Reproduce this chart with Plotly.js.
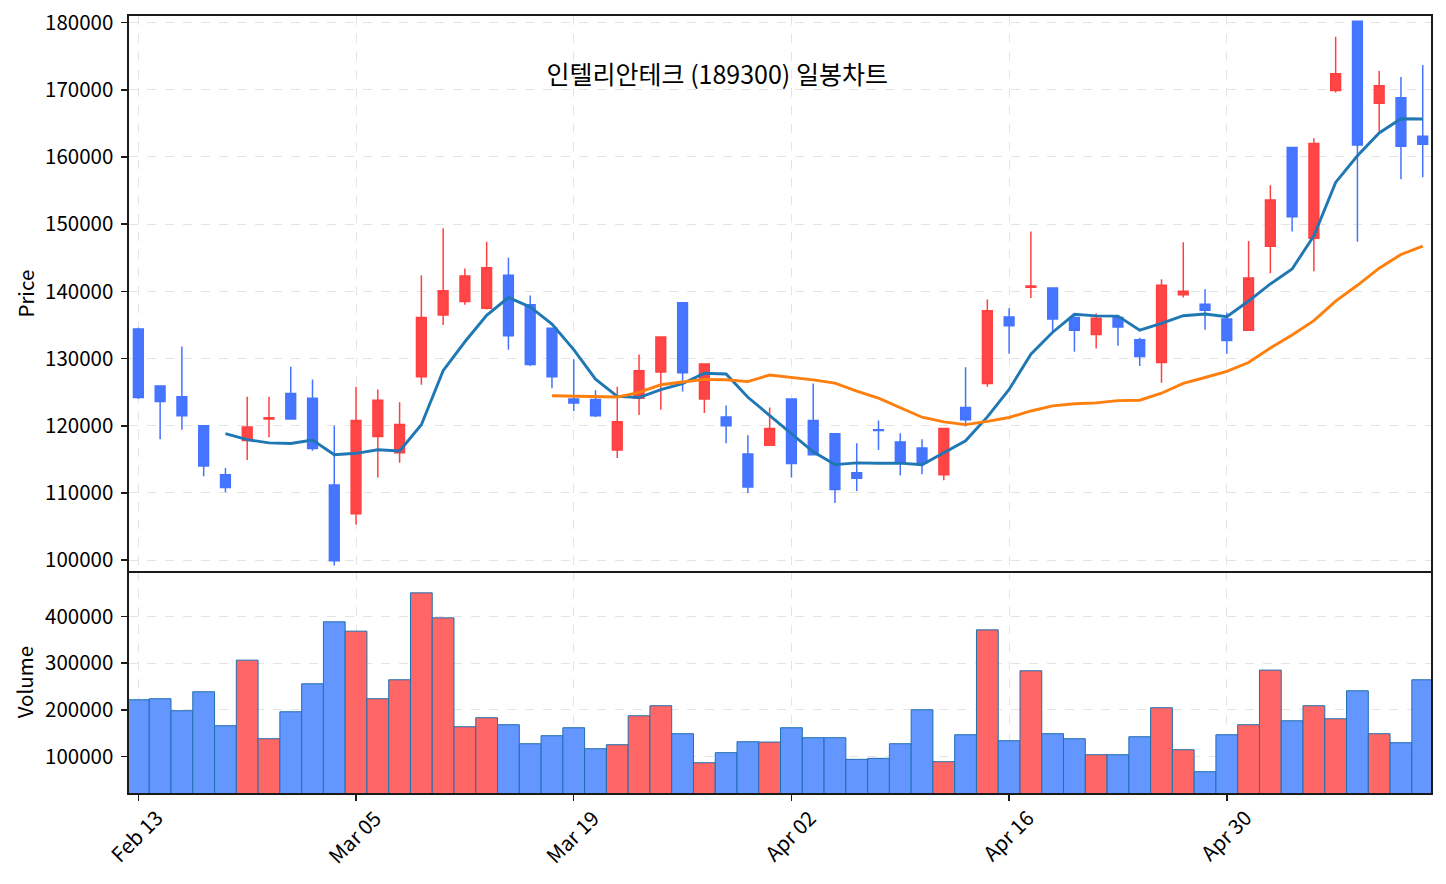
<!DOCTYPE html>
<html>
<head>
<meta charset="utf-8">
<script src="https://cdn.plot.ly/plotly-3.0.1.min.js"></script>
<style>
html, body { margin: 0; padding: 0; background: #ffffff; }
#chart { width: 1446px; height: 884px; }
</style>
</head>
<body>
<div id="chart"></div>
<script>
// ---- data ----
const chartTitle = '인텔리안테크 (189300) 일봉차트';
const tickLabels = ['Feb 13', 'Mar 05', 'Mar 19', 'Apr 02', 'Apr 16', 'Apr 30'];

const opens = [134400, 125900, 124300, 120000, 112700, 117800, 121000, 124800, 124100, 111200,
               106900, 118400, 116000, 127300, 136500, 138500, 137500, 142400, 138000, 134500,
               124000, 123900, 116400, 124100, 128000, 138300, 124000, 121300, 115800, 117100,
               124000, 120800, 118800, 113000, 119400, 117600, 116700, 112700, 122700, 126300,
               136200, 140600, 140500, 136100, 133600, 136100, 132800, 129400, 139500, 138100,
               135900, 134200, 146700, 161400, 147900, 169900, 180200, 168000, 168800, 163100];
const highs = [134600, 126000, 131800, 120000, 113700, 124300, 124300, 128800, 126900, 120000,
               125800, 125400, 123500, 142400, 149400, 143400, 147400, 145000, 139400, 134500,
               129900, 125300, 125800, 130600, 133200, 138300, 129200, 123000, 118600, 122700,
               124000, 126300, 118800, 117400, 120800, 118900, 118000, 119600, 128700, 138800,
               137500, 148900, 140500, 136300, 136700, 136500, 133100, 141800, 147300, 140300,
               136800, 147500, 155800, 161400, 162800, 177900, 180200, 172800, 171900, 173700];
const lows = [124000, 118000, 119400, 112500, 110100, 114900, 118300, 120900, 116300, 99200,
              105300, 112300, 114500, 126100, 135000, 138000, 137300, 131300, 128900, 125600,
              122200, 121300, 115200, 121600, 122400, 125100, 121900, 117400, 110000, 117100,
              112300, 115700, 108500, 110300, 116400, 112600, 112800, 111900, 119900, 125800,
              130700, 139000, 134000, 131000, 131500, 131900, 128900, 126400, 139100, 134300,
              130700, 134200, 142700, 148900, 143000, 169600, 147400, 163800, 156700, 157000];
const closes = [124200, 123600, 121500, 114000, 110800, 119800, 121200, 121000, 116600, 99900,
                120800, 123800, 120200, 136100, 140100, 142300, 143500, 133400, 129100, 127300,
                123400, 121500, 120600, 128200, 133200, 127900, 129200, 120000, 110900, 119600,
                114400, 115700, 110500, 112200, 119300, 114500, 114500, 119600, 120900, 137100,
                134900, 140800, 135900, 134200, 136000, 134700, 130300, 140900, 140000, 137200,
                132700, 142000, 153600, 151100, 162000, 172400, 161800, 170600, 161600, 161900];
const volumes = [221400, 223600, 197900, 238600, 165700, 306400, 137900, 195700, 255700, 388600,
                 368600, 223600, 264300, 450700, 397100, 163600, 182900, 167900, 127100, 144300,
                 161400, 116400, 125000, 187100, 208600, 148600, 86400, 107900, 131400, 130700,
                 161400, 140000, 140000, 93600, 95700, 127100, 200000, 88600, 146400, 371400,
                 133600, 283600, 148600, 137900, 103600, 103600, 142100, 204300, 114300, 67100,
                 146400, 167900, 285000, 176400, 208600, 180700, 240700, 148600, 129300, 264300];

// ---- derived ----
const idx = closes.map((_, i) => i);
function movingAverage(values, n) {
  return values.map((v, i) => {
    if (i < n - 1) return null;
    let s = 0;
    for (let k = i - n + 1; k <= i; k++) s += values[k];
    return s / n;
  });
}
const ma5 = movingAverage(closes, 5);
const ma20 = movingAverage(closes, 20);

const upLine = '#FF4040', upFill = '#FF4545';
const downLine = '#4474FF', downFill = '#4676FF';
const volUp = '#FF6666', volDown = '#6496FF';
const volColors = idx.map(i => closes[i] >= opens[i] ? volUp : volDown);

const tickVals = tickLabels.map((_, k) => k * 10);

const fontFam = '"Noto Sans CJK KR", "Noto Sans", sans-serif';
const fs = 20.5;
const tickFont = { family: fontFam, size: fs, color: '#000000' };
const gridColor = '#e4e4e4';
const lineColor = '#1a1a1a';

const traces = [
  {
    type: 'candlestick',
    x: idx, open: opens, high: highs, low: lows, close: closes,
    xaxis: 'x2', yaxis: 'y',
    increasing: { line: { color: upLine, width: 1.5 }, fillcolor: upFill },
    decreasing: { line: { color: downLine, width: 1.5 }, fillcolor: downFill },
    whiskerwidth: 0,
    showlegend: false, hoverinfo: 'skip'
  },
  {
    type: 'scatter', mode: 'lines', x: idx, y: ma5,
    xaxis: 'x2', yaxis: 'y',
    line: { color: '#1f77b4', width: 2.9 },
    showlegend: false, hoverinfo: 'skip'
  },
  {
    type: 'scatter', mode: 'lines', x: idx, y: ma20,
    xaxis: 'x2', yaxis: 'y',
    line: { color: '#ff7f0e', width: 2.9 },
    showlegend: false, hoverinfo: 'skip'
  },
  {
    type: 'bar', x: idx, y: volumes,
    xaxis: 'x', yaxis: 'y2',
    width: 1,
    marker: { color: volColors, line: { color: '#1f6fb0', width: 1 } },
    showlegend: false, hoverinfo: 'skip'
  }
];

const split = 0.2854;
const xRange = [-0.43, 59.38];

// x tick labels: rotated 45 degrees and centred under each tick
const xLabelAnnotations = tickLabels.map((t, k) => ({
  text: t, x: tickVals[k], xref: 'x', y: 0, yref: 'paper',
  xanchor: 'center', yanchor: 'top', yshift: -7, xshift: -2,
  textangle: -45, showarrow: false,
  font: { family: fontFam, size: fs, color: '#000000' }
}));

const layout = {
  width: 1446, height: 884,
  paper_bgcolor: '#ffffff', plot_bgcolor: '#ffffff',
  margin: { l: 129, r: 15, t: 16, b: 91, pad: 0 },
  font: { family: fontFam, color: '#000000' },
  showlegend: false,
  boxgap: 0.36,
  bargap: 0,
  title: {
    text: chartTitle,
    xref: 'container', yref: 'container',
    x: 0.496, y: 0.915, xanchor: 'center', yanchor: 'middle',
    font: { family: fontFam, size: 25, color: '#000000' }
  },
  annotations: xLabelAnnotations,
  xaxis: {
    domain: [0, 1], anchor: 'y2',
    range: xRange,
    tickmode: 'array', tickvals: tickVals, ticktext: tickLabels,
    showticklabels: false,
    ticks: 'outside', ticklen: 6, tickwidth: 1.5, tickcolor: lineColor,
    showline: true, mirror: false, linecolor: lineColor, linewidth: 1.6,
    showgrid: true, gridcolor: gridColor, griddash: 'dash', gridwidth: 1,
    zeroline: false
  },
  xaxis2: {
    domain: [0, 1], anchor: 'y', matches: 'x',
    range: xRange,
    tickmode: 'array', tickvals: tickVals, ticktext: tickLabels,
    showticklabels: false, ticks: '',
    showline: true, mirror: true, linecolor: lineColor, linewidth: 1.6,
    showgrid: true, gridcolor: gridColor, griddash: 'dash', gridwidth: 1,
    zeroline: false,
    rangeslider: { visible: false }
  },
  yaxis: {
    domain: [split, 1], anchor: 'x2',
    range: [98350, 180980],
    tickmode: 'linear', tick0: 100000, dtick: 10000, tickformat: 'd',
    tickfont: tickFont, ticklabelstandoff: 4,
    ticks: 'outside', ticklen: 6, tickwidth: 1.5, tickcolor: lineColor,
    showline: true, mirror: true, linecolor: lineColor, linewidth: 1.6,
    showgrid: true, gridcolor: gridColor, griddash: 'dash', gridwidth: 1,
    zeroline: false,
    title: { text: 'Price', font: { family: fontFam, size: fs, color: '#000000' }, standoff: 5 }
  },
  yaxis2: {
    domain: [0, split], anchor: 'x',
    range: [21430, 497100],
    tickmode: 'linear', tick0: 0, dtick: 100000, tickformat: 'd',
    tickfont: tickFont, ticklabelstandoff: 4,
    ticks: 'outside', ticklen: 6, tickwidth: 1.5, tickcolor: lineColor,
    showline: true, mirror: true, linecolor: lineColor, linewidth: 1.6,
    showgrid: true, gridcolor: gridColor, griddash: 'dash', gridwidth: 1,
    zeroline: false,
    title: { text: 'Volume', font: { family: fontFam, size: fs, color: '#000000' }, standoff: 6 }
  }
};

Plotly.newPlot('chart', traces, layout, { staticPlot: true, displayModeBar: false });
</script>
</body>
</html>
